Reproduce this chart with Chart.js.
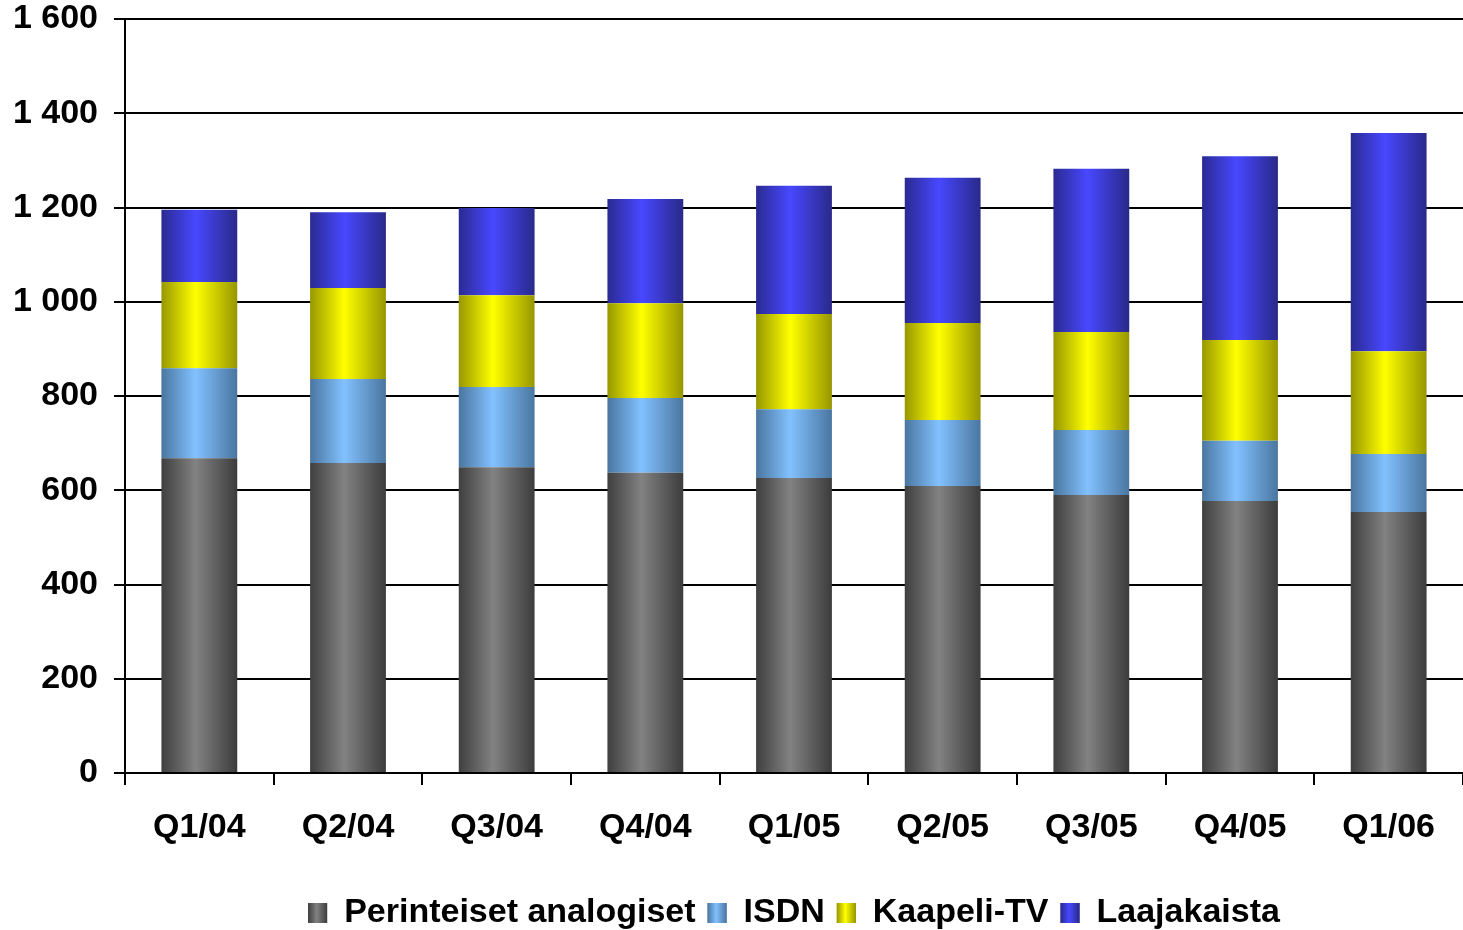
<!DOCTYPE html>
<html>
<head>
<meta charset="utf-8">
<title>Liittymät</title>
<script src="https://cdn.jsdelivr.net/npm/chart.js@4"></script>
<style>
  html, body { margin: 0; padding: 0; background: #fff; }
  #wrap { width: 1463px; height: 930px; }
</style>
</head>
<body>
<div id="wrap"><canvas id="chart"></canvas></div>
<script>
var quarters = ["Q1/04", "Q2/04", "Q3/04", "Q4/04", "Q1/05", "Q2/05", "Q3/05", "Q4/05", "Q1/06"];
var seriesNames = ["Perinteiset analogiset", "ISDN", "Kaapeli-TV", "Laajakaista"];
var analogiset = [668, 658, 649, 637, 626, 609, 590, 577, 554];
var isdn = [191, 178, 170, 159, 146, 140, 138, 128, 123];
var kaapeli = [183, 193, 195, 201, 202, 206, 208, 214, 218];
var laajakaista = [153, 161, 185, 221, 272, 308, 346, 390, 463];
var yTicks = [0, 200, 400, 600, 800, 1000, 1200, 1400, 1600];

// edge / middle / edge colours of the shaded bars
var shades = [
    ["#3f3f3f", "#828282", "#3c3c3c"],
    ["#4a76a0", "#82c1ff", "#4a76a0"],
    ["#979700", "#ffff00", "#969600"],
    ["#2a2a92", "#4848ff", "#29298a"]
];
var barPct = 0.51;
var font = "'Liberation Sans', Arial, sans-serif";

function shade(stops, ctx, left, width) {
    var g = ctx.createLinearGradient(left, 0, left + width, 0);
    g.addColorStop(0, stops[0]);
    g.addColorStop(0.45, stops[1]);
    g.addColorStop(1, stops[2]);
    return g;
}

function barFill(i) {
    return function(context) {
        var chart = context.chart;
        var x = chart.scales.x;
        if (!chart.chartArea || !x || context.dataIndex === undefined) return shades[i][1];
        var w = x.width / quarters.length * barPct;
        var cx = x.getPixelForValue(context.dataIndex);
        return shade(shades[i], chart.ctx, cx - w / 2, w);
    };
}

// legend is centred under the plot area, its boxes shaded like the bars
var legendShade = {
    id: "legendShade",
    afterLayout: function(chart) {
        var lg = chart.legend;
        if (!lg) return;
        lg.left = chart.chartArea.left;
        lg.right = chart.chartArea.right;
        lg.width = lg.right - lg.left;
    },
    afterDraw: function(chart) {
        var lg = chart.legend;
        if (!lg || !lg.legendHitBoxes) return;
        var ctx = chart.ctx;
        var bw = lg.options.labels.boxWidth, bh = lg.options.labels.boxHeight;
        lg.legendHitBoxes.forEach(function(hb, i) {
            var top = hb.top + (hb.height - bh) / 2;
            ctx.save();
            ctx.fillStyle = shade(shades[i], ctx, hb.left, bw);
            ctx.fillRect(hb.left, top, bw, bh);
            ctx.restore();
        });
    }
};

var values = [analogiset, isdn, kaapeli, laajakaista];

var config = {
    type: "bar",
    data: {
        labels: quarters,
        datasets: values.map(function(v, i) {
            return {
                label: seriesNames[i],
                data: v,
                backgroundColor: barFill(i),
                borderWidth: 0,
                categoryPercentage: 1,
                barPercentage: barPct
            };
        })
    },
    options: {
        responsive: true,
        maintainAspectRatio: false,
        animation: false,
        layout: { padding: { top: 0, right: 0, left: 0, bottom: -10 } },
        plugins: {
            tooltip: { enabled: false },
            legend: {
                position: "bottom",
                labels: {
                    color: "#000",
                    boxWidth: 19,
                    boxHeight: 20,
                    padding: 12,
                    font: { family: font, size: 34, weight: "bold" }
                }
            }
        },
        scales: {
            x: {
                stacked: true,
                offset: true,
                grid: { offset: true, drawOnChartArea: false, drawTicks: true, tickLength: 12, color: "#000", lineWidth: 2 },
                border: { color: "#000", width: 2 },
                ticks: { color: "#000", padding: 22, font: { family: font, size: 34, weight: "bold" } },
                afterFit: function(scale) { scale.height = 111; }
            },
            y: {
                stacked: true,
                min: 0,
                max: 1600,
                afterBuildTicks: function(scale) {
                    scale.ticks = yTicks.map(function(v) { return { value: v }; });
                },
                grid: { color: "#000", lineWidth: 2, tickLength: 11 },
                border: { color: "#000", width: 2 },
                ticks: {
                    color: "#000",
                    padding: 16,
                    font: { family: font, size: 34, weight: "bold" },
                    callback: function(v) { return String(v).replace(/\B(?=(\d{3})+(?!\d))/g, " "); }
                },
                afterFit: function(scale) {
                    scale.width = 125;
                    scale.paddingTop = 19;
                    scale.paddingBottom = 0;
                }
            }
        }
    },
    plugins: [legendShade]
};

var chartCtx = document.getElementById("chart").getContext("2d");
window.liittymat = new Chart(chartCtx, config);
</script>
</body>
</html>
